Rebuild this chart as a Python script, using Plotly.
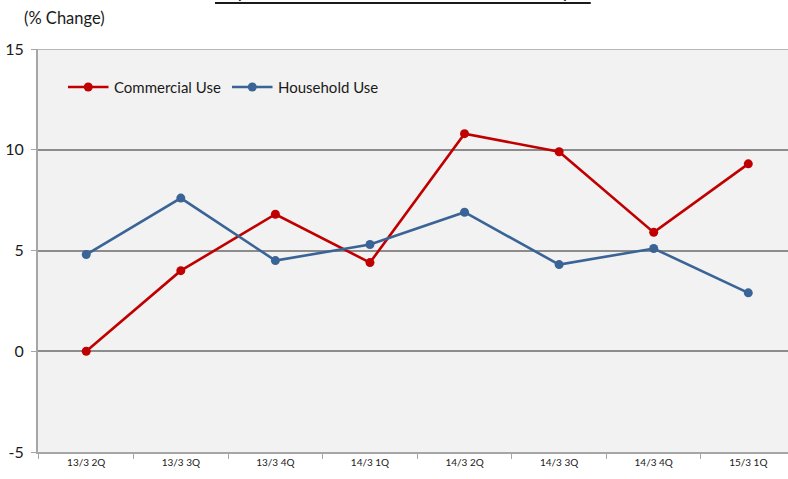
import plotly.graph_objects as go

# Quarterly year-on-year change (%)
quarters = ["13/3 2Q", "13/3 3Q", "13/3 4Q", "14/3 1Q", "14/3 2Q", "14/3 3Q", "14/3 4Q", "15/3 1Q"]
series_names = ["Commercial Use", "Household Use"]
commercial_use = [0.0, 4.0, 6.8, 4.4, 10.8, 9.9, 5.9, 9.3]
household_use = [4.8, 7.6, 4.5, 5.3, 6.9, 4.3, 5.1, 2.9]
y_ticks = [-5, 0, 5, 10, 15]
y_tick_text = ["-5", "0", "5", "10", "15"]

RED = "#C00000"
BLUE = "#3A6496"
FONT = "Lato, 'Liberation Sans', sans-serif"
TEXT = "#1a1a1a"

fig = go.Figure()
for name, values, color in zip(series_names, [commercial_use, household_use], [RED, BLUE]):
    fig.add_trace(go.Scatter(
        x=quarters, y=values, name=name, mode="lines+markers",
        line=dict(color=color, width=2.6), marker=dict(color=color, size=9),
        showlegend=False,
    ))

# Legend drawn inside the plot: line sample, marker dot and label per series
shapes = [
    dict(type="line", xref="paper", yref="y", x0=0, x1=1, y0=15, y1=15,
         line=dict(color="#B8B8B8", width=2)),
    dict(type="line", xref="paper", yref="paper", x0=0.236, x1=0.737,
         y0=1.114, y1=1.114, line=dict(color=TEXT, width=2)),
]
annotations = [
    dict(text="(% Change)", xref="paper", yref="paper", x=-0.022, y=1.077,
         xanchor="left", yanchor="middle", showarrow=False,
         font=dict(size=16.5, family=FONT, color=TEXT)),
    dict(text="<b>(Household Use and Commercial Use)</b>", xref="paper", yref="paper",
         x=0.486, y=1.112, xanchor="center", yanchor="bottom", showarrow=False,
         font=dict(size=20, family=FONT, color=TEXT)),
]
legend_y = 0.9057
legend_x = [0.04, 0.2587]
for name, color, x0 in zip(series_names, [RED, BLUE], legend_x):
    x1 = x0 + 0.0540
    xm = (x0 + x1) / 2
    shapes.append(dict(type="line", xref="paper", yref="paper", x0=x0, x1=x1,
                       y0=legend_y, y1=legend_y, line=dict(color=color, width=2.6)))
    shapes.append(dict(type="circle", xref="paper", yref="paper",
                       xsizemode="pixel", ysizemode="pixel",
                       xanchor=xm, yanchor=legend_y, x0=-4.5, x1=4.5, y0=-4.5, y1=4.5,
                       fillcolor=color, line=dict(color=color, width=0)))
    annotations.append(dict(text=name, xref="paper", yref="paper", x=x1 + 0.0047,
                            y=legend_y, xanchor="left", yanchor="middle", showarrow=False,
                            font=dict(size=15, family=FONT, color=TEXT)))

fig.update_layout(
    width=788, height=479,
    margin=dict(l=38, r=0, t=49, b=27),
    paper_bgcolor="white",
    plot_bgcolor="#F2F2F2",
    font=dict(family=FONT, color=TEXT),
    showlegend=False,
    xaxis=dict(
        type="category", range=[-0.51, 7.42], tickson="boundaries",
        ticks="outside", ticklen=5, tickcolor="#A6A6A6", tickwidth=1,
        showline=True, linecolor="#A6A6A6", linewidth=2,
        showgrid=False, tickfont=dict(size=10, family=FONT, color=TEXT),
    ),
    yaxis=dict(
        range=[-5, 15], tickvals=y_ticks, ticktext=y_tick_text,
        ticks="outside", ticklen=5, ticklabelstandoff=4,
        tickcolor="#A6A6A6", showline=True, linecolor="#A6A6A6", linewidth=2,
        showgrid=True, gridcolor="#8C8C8C", gridwidth=1.5, zeroline=False,
        tickfont=dict(size=16, family=FONT, color=TEXT),
    ),
    shapes=shapes,
    annotations=annotations,
)

fig.write_html("out.html")
